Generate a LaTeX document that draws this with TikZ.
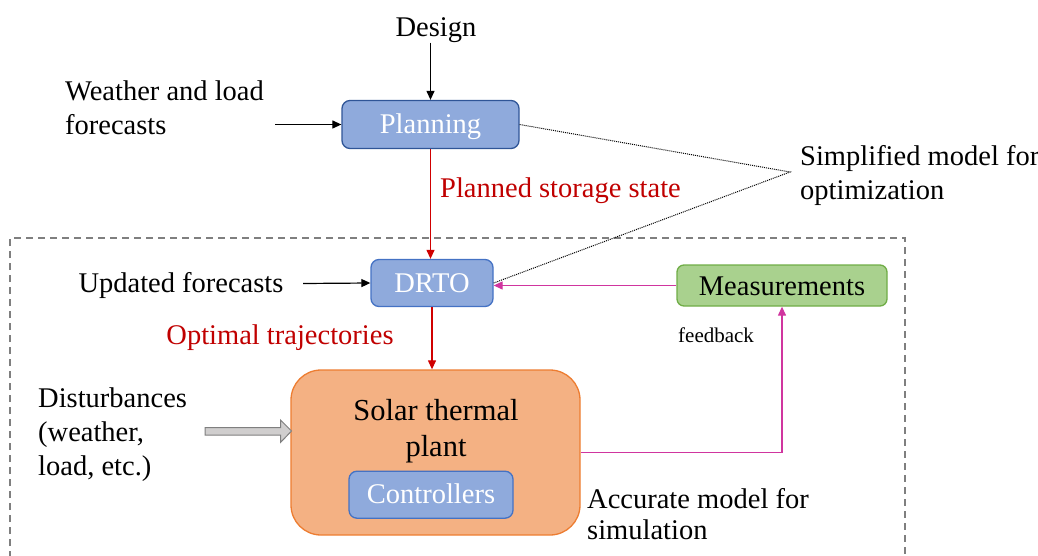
\documentclass[tikz,border=0pt]{standalone}
\usepackage{fontspec}
\setmainfont{Liberation Serif}
\usetikzlibrary{arrows.meta}
\definecolor{bfill}{HTML}{8FAADC}
\definecolor{bdark}{HTML}{2F5597}
\definecolor{bline}{HTML}{4472C4}
\definecolor{gfill}{HTML}{A9D18E}
\definecolor{gline}{HTML}{70AD47}
\definecolor{ofill}{HTML}{F4B183}
\definecolor{oline}{HTML}{ED7D31}
\definecolor{dred}{HTML}{C00000}
\definecolor{rline}{HTML}{D00000}
\definecolor{mag}{HTML}{D0359F}
\definecolor{dgray}{HTML}{7F7F7F}
\definecolor{lgray}{HTML}{D0CECE}
\tikzset{
  txt/.style={inner sep=0pt, font=\fontsize{28.5}{34}\selectfont, align=left},
  bluebox/.style={draw=bline, fill=bfill, line width=1.3pt, rounded corners=8pt, text=white, font=\fontsize{28.5}{34}\selectfont, inner sep=0pt, text height=20pt, text depth=1pt},
  arr/.style={line width=1.2pt, -{Triangle[length=9pt,width=8pt]}},
  redarr/.style={arr, draw=rline, color=rline},
  magarr/.style={arr, draw=mag, color=mag},
  dotline/.style={densely dotted, line width=1pt},
}
\begin{document}
\begin{tikzpicture}[x=1pt,y=-1pt]
\useasboundingbox (0,0) rectangle (1038,556);
% dashed frame
\draw[dgray, line width=1.2pt, dash pattern=on 7pt off 5pt] (10,570) -- (10,238) -- (905,238) -- (905,570);

\node[txt] (design) at (436,30) {Design};
\node[bluebox, draw=bdark, minimum width=177, minimum height=48] (plan) at (430.5,124.5) {Planning};
\draw[arr] (design.south -| plan.north) -- (plan.north);

\node[txt, anchor=west] (wf) at (65,108) {Weather and load\\forecasts};
\coordinate (wfa) at (275,124.5);
\draw[arr] (wfa) -- (plan.west);

\node[bluebox, minimum width=122, minimum height=47] (drto) at (432,283) {DRTO};
\node[txt, anchor=west] (simp) at (800,175.5) {Simplified model for\\optimization};
\coordinate (sm) at (790,172);
\draw[dotline] (plan.east) -- (sm) -- (drto.east);

\draw[redarr] (plan.south) -- (plan.south |- drto.north);
\node[txt, anchor=west, text=dred] (pss) at (440,191) {Planned storage state};

\node[txt] (uf) at (181,285.5) {Updated forecasts};
\coordinate (ufa) at (303,283.5);
\draw[arr] (ufa) -- (drto.west);

\node[draw=gline, fill=gfill, line width=1.3pt, rounded corners=7pt, minimum width=210, minimum height=41, inner sep=0pt, text height=20pt, text depth=1pt, font=\fontsize{28.5}{34}\selectfont] (meas) at (782,285.5) {Measurements};
\draw[magarr] (meas.west) -- (meas.west -| drto.east);
\node[inner sep=0pt, anchor=west, font=\fontsize{21}{25}\selectfont] (fb) at (678,335) {feedback};

\node[draw=oline, fill=ofill, line width=1.3pt, rounded corners=30pt, minimum width=289, minimum height=165, inner sep=0pt] (plant) at (435.5,452.5) {};
\node[txt, align=center, font=\fontsize{30.5}{36}\selectfont] (pltxt) at (436,431) {Solar thermal\\plant};
\node[bluebox, minimum width=164, minimum height=47, text height=18.5pt] (ctrl) at (431,494.7) {Controllers};

\draw[redarr] (drto.south) -- (drto.south |- plant.north);
\node[txt, text=dred] (opt) at (280,338) {Optimal trajectories};

\draw[magarr] (plant.east) -| (meas.south);

\node[txt, anchor=west] (dist) at (38,434.5) {Disturbances\\(weather,\\load, etc.)};
\draw[draw=dgray, fill=lgray, line width=1pt] (205,427.5) -- (280.5,427.5) -- (280.5,420) -- (291.5,431) -- (280.5,442.5) -- (280.5,435) -- (205,435) -- cycle;

\node[txt, anchor=west, font=\fontsize{28.5}{31.5}\selectfont] (acc) at (587,514) {Accurate model for\\simulation};
\end{tikzpicture}
\end{document}
